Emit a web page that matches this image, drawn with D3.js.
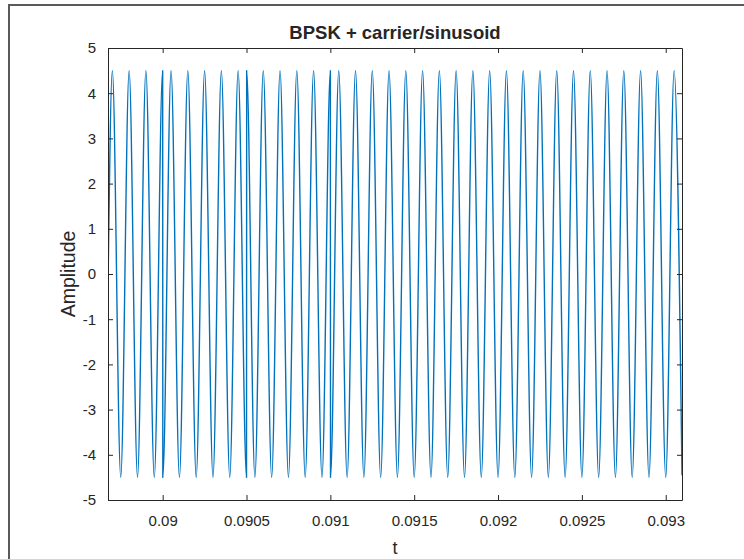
<!DOCTYPE html>
<html>
<head>
<meta charset="utf-8">
<script src="https://cdn.jsdelivr.net/npm/d3@7"></script>
<style>
  html, body { margin: 0; padding: 0; background: #ffffff; }
  svg { display: block; }
  text { font-family: "Liberation Sans", Arial, Helvetica, sans-serif; fill: #262626; }
</style>
</head>
<body>
<svg id="chart" width="744" height="559"></svg>
<script>
// Waveform vertices: start sample, every carrier half-cycle extremum,
// the phase-reversal jumps at bit edges, and the last sample.
const sampleT = [
  0.089674,
  0.0897, 0.08975, 0.0898, 0.08985, 0.0899, 0.08995, 0.09,
  0.090001, 0.09005, 0.0901, 0.09015, 0.0902, 0.09025, 0.0903, 0.09035, 0.0904, 0.09045, 0.0905,
  0.090501, 0.09055, 0.0906, 0.09065, 0.0907, 0.09075, 0.0908, 0.09085, 0.0909, 0.09095, 0.091,
  0.091001, 0.09105, 0.0911, 0.09115, 0.0912, 0.09125, 0.0913, 0.09135, 0.0914, 0.09145, 0.0915,
  0.09155, 0.0916, 0.09165, 0.0917, 0.09175, 0.0918, 0.09185, 0.0919, 0.09195, 0.092,
  0.09205, 0.0921, 0.09215, 0.0922, 0.09225, 0.0923, 0.09235, 0.0924, 0.09245, 0.0925,
  0.09255, 0.0926, 0.09265, 0.0927, 0.09275, 0.0928, 0.09285, 0.0929, 0.09295, 0.093,
  0.09305, 0.093097
];
const sampleV = [
  -0.3,
  4.5, -4.5, 4.5, -4.5, 4.5, -4.5, 4.5,
  -4.5, 4.5, -4.5, 4.5, -4.5, 4.5, -4.5, 4.5, -4.5, 4.5, -4.5,
  4.5, -4.5, 4.5, -4.5, 4.5, -4.5, 4.5, -4.5, 4.5, -4.5, 4.5,
  -4.5, 4.5, -4.5, 4.5, -4.5, 4.5, -4.5, 4.5, -4.5, 4.5, -4.5,
  4.5, -4.5, 4.5, -4.5, 4.5, -4.5, 4.5, -4.5, 4.5, -4.5,
  4.5, -4.5, 4.5, -4.5, 4.5, -4.5, 4.5, -4.5, 4.5, -4.5,
  4.5, -4.5, 4.5, -4.5, 4.5, -4.5, 4.5, -4.5, 4.5, -4.5,
  4.5, -4.45
];

const tLimits = [0.089674, 0.093097];
const yLimits = [-5, 5];
const xTickValues = [0.09, 0.0905, 0.091, 0.0915, 0.092, 0.0925, 0.093];
const xTickLabels = ["0.09", "0.0905", "0.091", "0.0915", "0.092", "0.0925", "0.093"];
const yTickValues = [-5, -4, -3, -2, -1, 0, 1, 2, 3, 4, 5];
const yTickLabels = ["-5", "-4", "-3", "-2", "-1", "0", "1", "2", "3", "4", "5"];

const titleText = "BPSK + carrier/sinusoid";
const xLabelText = "t";
const yLabelText = "Amplitude";

const W = 744, H = 559;
const plot = { left: 108, right: 682, top: 48, bottom: 500 };
const axisColor = "#262626";
const lineColor = "#0072bd";
const tickLen = 5;

const svg = d3.select("#chart");

// figure window frame
svg.append("rect")
  .attr("x", 9).attr("y", 5)
  .attr("width", W).attr("height", H)
  .attr("fill", "#ffffff")
  .attr("stroke", "#5a5a5a")
  .attr("stroke-width", 2);

const x = d3.scaleLinear().domain(tLimits).range([plot.left, plot.right]);
const y = d3.scaleLinear().domain(yLimits).range([plot.bottom, plot.top]);

// signal trace
const pts = sampleT.map((t, i) => [t, sampleV[i]]);
svg.append("defs").append("clipPath").attr("id", "plotClip")
  .append("rect")
  .attr("x", plot.left).attr("y", plot.top)
  .attr("width", plot.right - plot.left).attr("height", plot.bottom - plot.top);

svg.append("path")
  .datum(pts)
  .attr("clip-path", "url(#plotClip)")
  .attr("fill", "none")
  .attr("stroke", lineColor)
  .attr("stroke-width", 1.4)
  .attr("stroke-linejoin", "round")
  .attr("d", d3.line().x(d => x(d[0])).y(d => y(d[1])).curve(d3.curveMonotoneX));

// axes with inward ticks on all four sides (box on)
function styleAxis(g) {
  g.select(".domain").attr("stroke", axisColor).attr("stroke-width", 1);
  g.selectAll(".tick line").attr("stroke", axisColor).attr("stroke-width", 1);
  g.selectAll(".tick text")
    .attr("fill", axisColor)
    .style("font-family", '"Liberation Sans", Arial, sans-serif')
    .style("font-size", "15px");
}

const xFmt = (d, i) => xTickLabels[i];
const yFmt = (d, i) => yTickLabels[i];

svg.append("g")
  .attr("transform", `translate(0,${plot.bottom})`)
  .call(d3.axisBottom(x).tickValues(xTickValues).tickFormat(xFmt)
        .tickSizeInner(-tickLen).tickSizeOuter(0).tickPadding(tickLen + 10))
  .call(styleAxis);

svg.append("g")
  .attr("transform", `translate(0,${plot.top})`)
  .call(d3.axisTop(x).tickValues(xTickValues).tickFormat("")
        .tickSizeInner(-tickLen).tickSizeOuter(0))
  .call(styleAxis);

svg.append("g")
  .attr("transform", `translate(${plot.left},0)`)
  .call(d3.axisLeft(y).tickValues(yTickValues).tickFormat(yFmt)
        .tickSizeInner(-tickLen).tickSizeOuter(0).tickPadding(tickLen + 7))
  .call(styleAxis);

svg.append("g")
  .attr("transform", `translate(${plot.right},0)`)
  .call(d3.axisRight(y).tickValues(yTickValues).tickFormat("")
        .tickSizeInner(-tickLen).tickSizeOuter(0))
  .call(styleAxis);

// titles
svg.append("text")
  .attr("x", (plot.left + plot.right) / 2).attr("y", 39)
  .attr("text-anchor", "middle")
  .style("font-size", "18.5px").style("font-weight", "bold")
  .attr("fill", "#000000")
  .text(titleText);

svg.append("text")
  .attr("x", (plot.left + plot.right) / 2).attr("y", 554)
  .attr("text-anchor", "middle")
  .style("font-size", "18px")
  .text(xLabelText);

svg.append("text")
  .attr("transform", `translate(75,${(plot.top + plot.bottom) / 2}) rotate(-90)`)
  .attr("text-anchor", "middle")
  .style("font-size", "19.5px")
  .text(yLabelText);
</script>
</body>
</html>
